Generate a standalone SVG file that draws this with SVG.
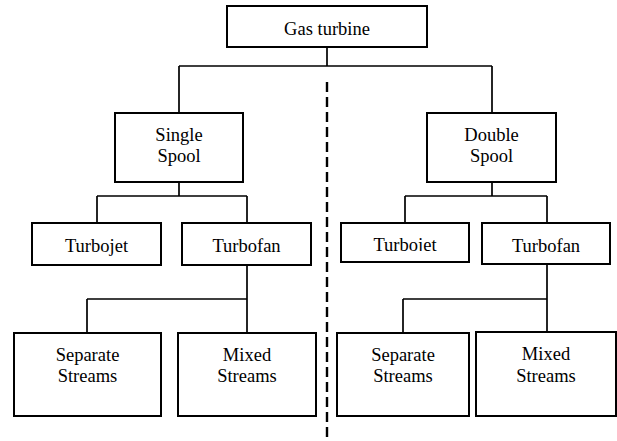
<svg xmlns="http://www.w3.org/2000/svg" width="617" height="441" viewBox="0 0 617 441" font-family="Liberation Serif, Times New Roman, serif">
<style>
.box{fill:#fff;stroke:#000;stroke-width:2}
.t{font-family:"Liberation Serif","Times New Roman",serif;font-size:18.5px;fill:#000;text-anchor:middle}
.c{fill:none;stroke:#000;stroke-width:1.7}
.d{fill:none;stroke:#000;stroke-width:2.4;stroke-dasharray:10 5}
</style>
<defs>
<clipPath id="clipTj2"><rect x="341" y="223" width="128" height="28"/></clipPath>
</defs>
<rect width="617" height="441" fill="#fff"/>
<g id="connectors">
<path class="c" d="M327 47V66M179 66H492M179 66V113M492 66V113"/>
<path class="c" d="M179 182V196M97 196H247M97 196V223M247 196V223"/>
<path class="c" d="M247 265V333M87 299H247M87 299V333"/>
<path class="c" d="M492 182V196M405 196H547M405 196V223M547 196V223"/>
<path class="c" d="M547 264V332M403 299H547M403 299V333"/>
<path class="d" d="M327 82V441"/>
</g>
<g id="gas-turbine"><rect class="box" x="227" y="6" width="200" height="41"/><text class="t" x="327" y="35">Gas turbine</text></g>
<g id="single-spool"><rect class="box" x="115" y="113" width="128" height="69"/><text class="t" x="179" y="140.5">Single</text><text class="t" x="179" y="161.5">Spool</text></g>
<g id="double-spool"><rect class="box" x="427" y="113" width="129" height="69"/><text class="t" x="491.5" y="140.5">Double</text><text class="t" x="491.5" y="161.5">Spool</text></g>
<g id="turbojet-1"><rect class="box" x="32" y="223" width="129" height="42"/><text class="t" x="96.5" y="251.5">Turbojet</text></g>
<g id="turbofan-1"><rect class="box" x="182" y="223" width="129" height="42"/><text class="t" x="246.5" y="252">Turbofan</text></g>
<g id="turbojet-2"><rect class="box" x="341" y="223" width="128" height="39"/><text class="t" x="405" y="250.5" clip-path="url(#clipTj2)">Turbojet</text></g>
<g id="turbofan-2"><rect class="box" x="482" y="223" width="128" height="41"/><text class="t" x="546" y="252">Turbofan</text></g>
<g id="separate-1"><rect class="box" x="14" y="333" width="147" height="83"/><text class="t" x="87.5" y="361">Separate</text><text class="t" x="87.5" y="382">Streams</text></g>
<g id="mixed-1"><rect class="box" x="178" y="333" width="138" height="83"/><text class="t" x="247" y="361">Mixed</text><text class="t" x="247" y="382">Streams</text></g>
<g id="separate-2"><rect class="box" x="337" y="333" width="132" height="83"/><text class="t" x="403" y="361">Separate</text><text class="t" x="403" y="382">Streams</text></g>
<g id="mixed-2"><rect class="box" x="476" y="332" width="140" height="84"/><text class="t" x="546" y="359.5">Mixed</text><text class="t" x="546" y="381.5">Streams</text></g>
</svg>
